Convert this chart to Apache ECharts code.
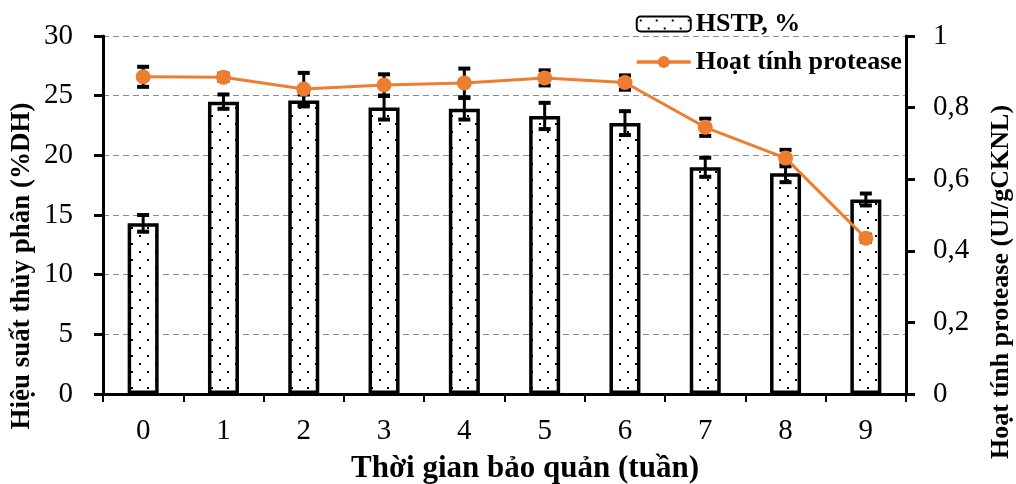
<!DOCTYPE html>
<html>
<head>
<meta charset="utf-8">
<script src="https://cdn.jsdelivr.net/npm/echarts@6/dist/echarts.min.js"></script>
<style>
  html, body { margin: 0; padding: 0; background: #fff; }
  #chart { width: 1016px; height: 484px; }
</style>
</head>
<body>
<div id="chart"></div>
<script>
// data
const weeks = ['0', '1', '2', '3', '4', '5', '6', '7', '8', '9']
const hstp = [14.3, 24.5, 24.6, 24.0, 23.9, 23.3, 22.7, 19.0, 18.5, 16.3]
const hstpErr = [0.7, 0.6, 0.5, 1.0, 0.9, 1.1, 1.0, 0.8, 0.75, 0.5]
const protease = [0.886, 0.885, 0.852, 0.863, 0.869, 0.883, 0.870, 0.745, 0.659, 0.435]
const proteaseErr = [0.028, 0.01, 0.045, 0.03, 0.04, 0.021, 0.02, 0.024, 0.023, 0.01]

const serif = '"Liberation Serif", "Times New Roman", serif'
const orange = '#ED7D31'

// dotted fill for the bars
const dots = document.createElement('canvas')
dots.width = 16
dots.height = 16
const ctx = dots.getContext('2d')
ctx.fillStyle = '#fff'
ctx.fillRect(0, 0, 16, 16)
ctx.fillStyle = '#000'
ctx.fillRect(3, 3, 2, 2)
ctx.fillRect(11, 11, 2, 2)

function errorBars (capHalf) {
  return function (params, api) {
    const x = api.value(0)
    const m = api.value(1)
    const e = api.value(2)
    const top = api.coord([x, m + e])
    const bot = api.coord([x, m - e])
    const st = { stroke: '#000', lineWidth: 3 }
    const cap = { stroke: '#000', lineWidth: 4 }
    return {
      type: 'group',
      children: [
        { type: 'line', shape: { x1: top[0], y1: top[1], x2: bot[0], y2: bot[1] }, style: st },
        { type: 'line', shape: { x1: top[0] - capHalf, y1: top[1], x2: top[0] + capHalf, y2: top[1] }, style: cap },
        { type: 'line', shape: { x1: bot[0] - capHalf, y1: bot[1], x2: bot[0] + capHalf, y2: bot[1] }, style: cap }
      ]
    }
  }
}

const titleStyle = (text, size) => ({
  text: text,
  font: 'bold ' + size + 'px ' + serif,
  fill: '#000',
  align: 'center',
  verticalAlign: 'middle'
})

// tick labels go through rich text so the size sticks
const tickRich = { t: { fontFamily: serif, fontSize: 29, color: '#000', lineHeight: 30 } }

const chart = echarts.init(document.getElementById('chart'))
chart.setOption({
  animation: false,
  textStyle: { fontFamily: serif },
  grid: { left: 103, right: 110, top: 36, bottom: 90 },
  legend: {
    orient: 'vertical',
    left: 630,
    top: 6,
    itemWidth: 54,
    itemHeight: 15,
    itemGap: 12,
    textStyle: { fontFamily: serif, fontSize: 26, fontWeight: 'bold', color: '#000' },
    data: [
      { name: 'HSTP, %' },
      { name: 'Hoạt tính protease', lineStyle: { width: 3.5 } }
    ]
  },
  xAxis: {
    type: 'category',
    data: weeks,
    axisLine: { lineStyle: { color: '#000', width: 3 } },
    axisTick: { show: true, length: 8, lineStyle: { color: '#000', width: 2 } },
    axisLabel: {
      margin: 22,
      fontSize: 29,
      fontFamily: serif,
      color: '#000',
      formatter: v => '{t|' + v + '}',
      rich: tickRich
    }
  },
  yAxis: [
    {
      type: 'value',
      min: 0,
      max: 30,
      interval: 5,
      axisLine: { show: true, lineStyle: { color: '#000', width: 3 } },
      axisTick: { show: true, length: 9, lineStyle: { color: '#000', width: 3 } },
      axisLabel: {
        margin: 30,
        fontSize: 29,
        fontFamily: serif,
        color: '#000',
        formatter: v => '{t|' + v + '}',
        rich: tickRich
      },
      splitLine: { lineStyle: { color: '#8c8c8c', type: [6, 4], width: 1.2 } }
    },
    {
      type: 'value',
      min: 0,
      max: 1,
      interval: 0.2,
      position: 'right',
      axisLine: { show: true, lineStyle: { color: '#000', width: 3 } },
      axisTick: { show: true, length: 9, lineStyle: { color: '#000', width: 3 } },
      axisLabel: {
        margin: 27,
        fontSize: 29,
        fontFamily: serif,
        color: '#000',
        formatter: v => '{t|' + String(Math.round(v * 10) / 10).replace('.', ',') + '}',
        rich: tickRich
      },
      splitLine: { show: false }
    }
  ],
  graphic: [
    { type: 'text', x: 22, y: 266, rotation: Math.PI / 2, style: titleStyle('Hiệu suất thủy phân (%DH)', 27) },
    { type: 'text', x: 1001, y: 282, rotation: Math.PI / 2, style: titleStyle('Hoạt tính protease (UI/gCKNL)', 26) },
    { type: 'text', x: 525, y: 469, style: titleStyle('Thời gian bảo quản (tuần)', 31) }
  ],
  series: [
    {
      name: 'HSTP, %',
      type: 'bar',
      data: hstp,
      barWidth: 31,
      itemStyle: {
        color: { image: dots, repeat: 'repeat' },
        borderColor: '#000',
        borderWidth: 3.5
      },
      z: 2
    },
    {
      type: 'custom',
      renderItem: errorBars(6),
      data: hstp.map((v, i) => [i, v, hstpErr[i]]),
      z: 3
    },
    {
      type: 'custom',
      yAxisIndex: 1,
      renderItem: errorBars(6),
      data: protease.map((v, i) => [i, v, proteaseErr[i]]),
      z: 4
    },
    {
      name: 'Hoạt tính protease',
      type: 'line',
      yAxisIndex: 1,
      data: protease,
      symbol: 'circle',
      symbolSize: 15,
      lineStyle: { color: orange, width: 3 },
      itemStyle: { color: orange },
      z: 5
    }
  ]
})
</script>
</body>
</html>
